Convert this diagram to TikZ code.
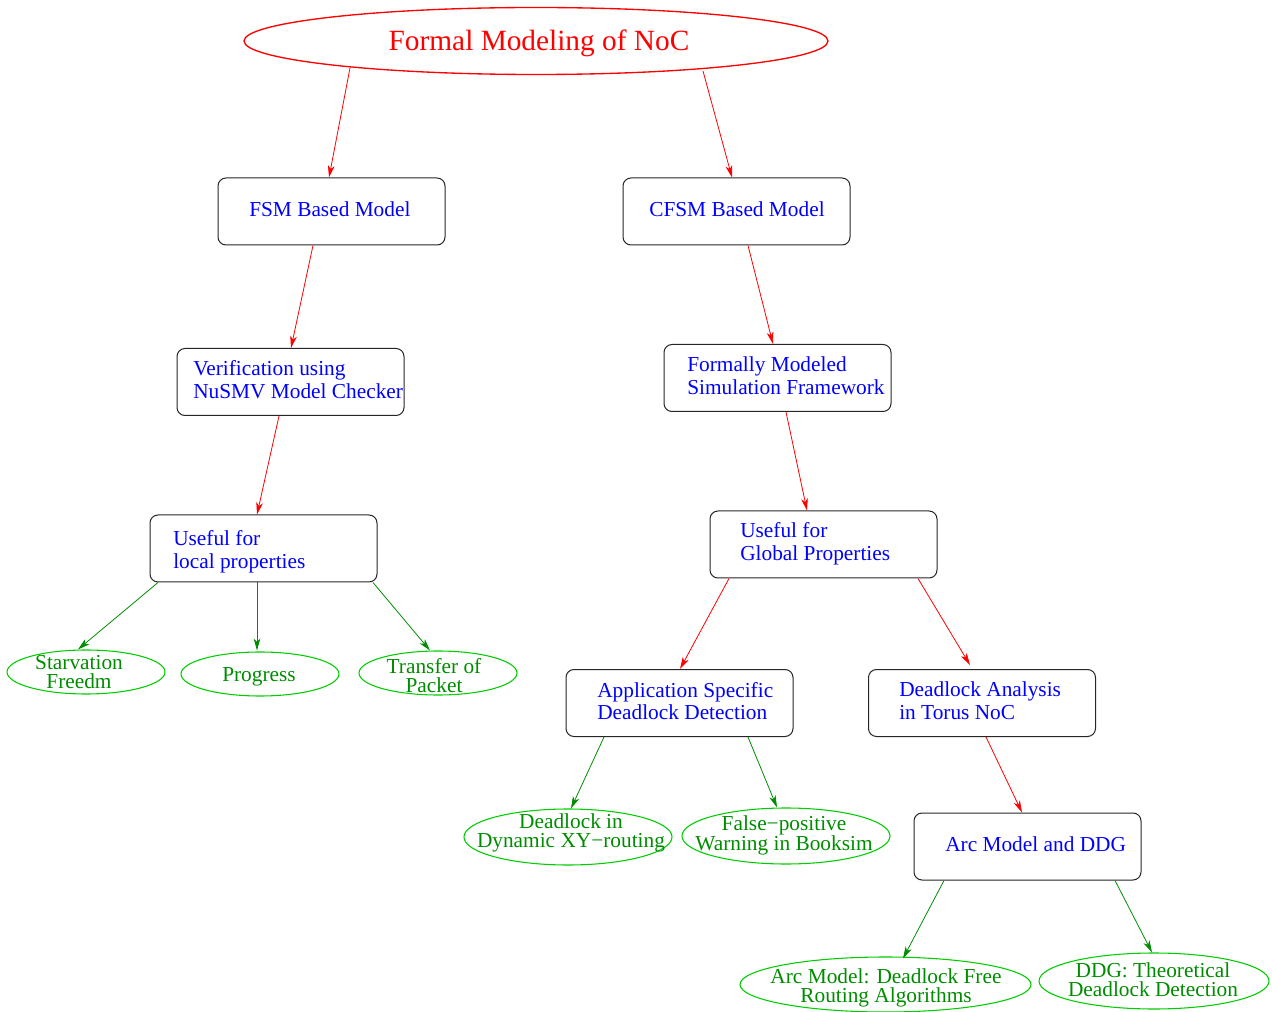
\documentclass[tikz,border=0pt]{standalone}
\usepackage{fontspec}
\setmainfont{Liberation Serif}
\usetikzlibrary{arrows.meta,shapes.geometric,calc}
\definecolor{gtext}{RGB}{0,140,0}
\definecolor{gline}{RGB}{0,205,0}
\begin{document}
\begin{tikzpicture}[x=0.75pt,y=-0.75pt,
  box/.style={draw=black!85, rounded corners=6pt, line width=0.75pt, minimum width=170.25pt, minimum height=50.25pt, inner sep=0},
  btext/.style={anchor=west, inner sep=0, text=blue, font=\fontsize{16}{17}\selectfont, align=left},
  gell/.style={draw=gline, ellipse, line width=0.8pt, inner sep=0},
  gtxt/.style={inner sep=0, text=gtext, font=\fontsize{16}{14.25}\selectfont, align=center},
  tip/.style={-{Stealth[length=9pt,width=5pt,inset=2.5pt]}},
  rarr/.style={red, line width=0.6pt, tip},
  garr/.style={gtext, line width=0.6pt, tip}
]
\useasboundingbox (0,0) rectangle (1272,1012);

% title
\node[draw=red, ellipse, line width=1pt, inner sep=0, minimum width=438pt, minimum height=50.25pt] (title) at (536,41) {};
\node[inner sep=0, text=red, font=\fontsize{22}{24}\selectfont] (titleT) at (539,43) {Formal Modeling of NoC};

% boxes
\node[box] (fsm) at (331.5,211.5) {};
\node[btext] (fsmT) at (249,209.5) {FSM Based Model};
\node[box] (cfsm) at (736.5,211.5) {};
\node[btext] (cfsmT) at (649,209.5) {CFSM Based Model};
\node[box] (ver) at (290.5,382) {};
\node[btext] (verT) at (193,379.5) {Verification using\\NuSMV Model Checker};
\node[box] (form) at (777.5,378) {};
\node[btext] (formT) at (687,376) {Formally Modeled\\Simulation Framework};
\node[box] (loc) at (263.5,548.5) {};
\node[btext] (locT) at (173,551.5) {Useful for\\local properties};
\node[box] (glob) at (823.5,544.5) {};
\node[btext] (globT) at (740,543.5) {Useful for\\Global Properties};
\node[box] (app) at (679.5,703) {};
\node[btext] (appT) at (597,701) {Application Specific\\Deadlock Detection};
\node[box] (dla) at (982,703) {};
\node[btext] (dlaT) at (899,701) {Deadlock Analysis\\in Torus NoC};
\node[box] (arc) at (1027.5,846.5) {};
\node[btext] (arcT) at (945,844.5) {Arc Model and DDG};

% green ellipses
\node[gell, minimum width=118.5pt, minimum height=33pt] (star) at (86,672) {};
\node[gtxt] (starT) at (79,672) {Starvation\\Freedm};
\node[gell, minimum width=118.5pt, minimum height=33pt] (prog) at (260,674) {};
\node[gtxt] (progT) at (259,677) {Progress};
\node[gell, minimum width=118.5pt, minimum height=33pt] (trans) at (438,673) {};
\node[gtxt] (transT) at (434,676) {Transfer of\\Packet};
\node[gell, minimum width=156pt, minimum height=42pt] (dead) at (568,837) {};
\node[gtxt] (deadT) at (571,833) {Deadlock in\\Dynamic XY−routing};
\node[gell, minimum width=156pt, minimum height=42pt] (false) at (786,836) {};
\node[gtxt] (falseT) at (784,835.5) {False−positive\\Warning in Booksim};
\node[gell, minimum width=218.25pt, minimum height=41.25pt] (arcm) at (885.5,984.5) {};
\node[gtxt] (arcmT) at (886,988) {Arc Model: Deadlock Free\\Routing Algorithms};
\node[gell, minimum width=172.5pt, minimum height=42pt] (ddg) at (1154,981) {};
\node[gtxt] (ddgT) at (1153,980) {DDG: Theoretical\\Deadlock Detection};

% red connectors
\draw[rarr] ($(title.center)+(-186,27)$) -- ($(fsm.north)+(-2.5,0)$);
\draw[rarr] ($(title.center)+(167,30)$) -- ($(cfsm.north)+(-4.5,0)$);
\draw[rarr] ($(fsm.south)+(-18.5,0)$) -- ($(ver.north)+(0.5,0)$);
\draw[rarr] ($(cfsm.south)+(11.5,0)$) -- ($(form.north)+(-4.5,0)$);
\draw[rarr] ($(ver.south)+(-11.5,0)$) -- ($(loc.north)+(-6.5,0)$);
\draw[rarr] ($(form.south)+(8.5,0)$) -- ($(glob.north)+(-16.5,0)$);
\draw[rarr] ($(glob.south)+(-94.5,0)$) -- ($(app.north)+(0.5,0)$);
\draw[rarr] ($(glob.south)+(94.5,0)$) -- ($(dla.north)+(-12,-4)$);
\draw[rarr] ($(dla.south)+(4,0)$) -- ($(arc.north)+(-5.5,0)$);

% green connectors
\draw[garr] ($(loc.south)+(-105.5,0)$) -- ($(star.north)+(-8,0)$);
\draw[garr] ($(loc.south)+(-6.5,0)$) -- ($(prog.north)+(-3,-1)$);
\draw[garr] ($(loc.south)+(109.5,0)$) -- ($(trans.north)+(-8,0)$);
\draw[garr] ($(app.south)+(-75.5,0)$) -- ($(dead.north)+(3,0)$);
\draw[garr] ($(app.south)+(68.5,0)$) -- ($(false.north)+(-9,0)$);
\draw[garr] ($(arc.south)+(-83.5,0)$) -- ($(arcm.north)+(17.5,2)$);
\draw[garr] ($(arc.south)+(87.5,0)$) -- ($(ddg.north)+(-2,0)$);
\end{tikzpicture}
\end{document}
